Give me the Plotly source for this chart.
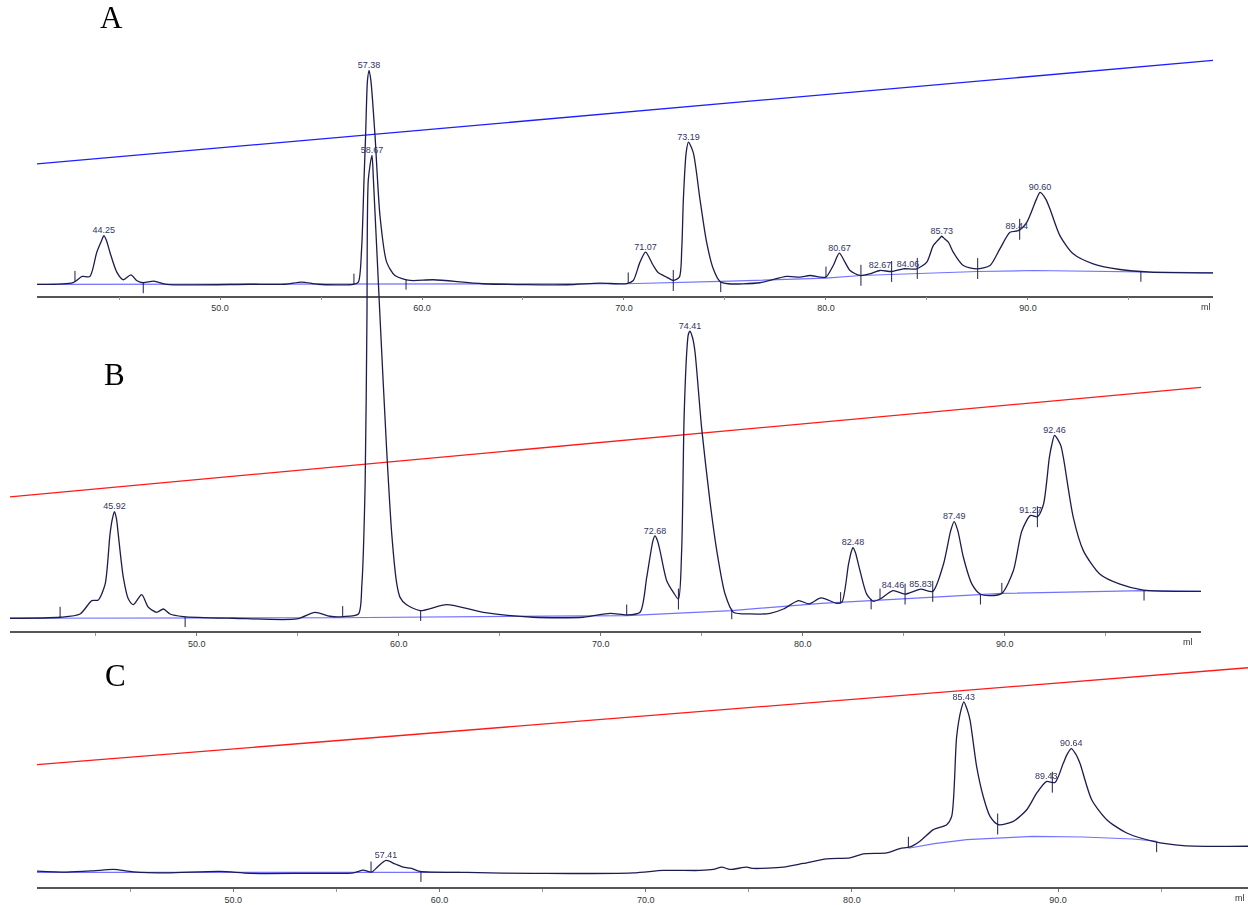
import numpy as np
import plotly.graph_objects as go

# ---------------- Panel A chromatogram (elution volume ml, absorbance a.u.) ----------------
A_ml = [40.94, 42.72, 43.17, 43.56, 43.90, 44.15, 44.25, 44.37, 44.55, 44.89, 45.21, 45.59, 45.89, 46.20,
        46.73, 47.36, 51.49, 53.22, 54.04, 54.85, 56.60, 56.85, 57.01, 57.13, 57.21, 57.30, 57.38, 57.47,
        57.67, 57.92, 58.25, 58.66, 59.41, 60.56, 63.03, 67.16, 68.81, 70.13, 70.46, 70.79, 71.07, 71.45,
        71.70, 72.11, 72.44, 72.74, 72.86, 72.94, 73.08, 73.19, 73.43, 73.76, 74.09, 74.42, 74.75, 75.16,
        76.73, 78.05, 78.71, 79.21, 79.70, 80.00, 80.36, 80.66, 80.94, 81.19, 81.68, 82.18, 82.67, 83.25,
        83.83, 84.49, 84.99, 85.31, 85.60, 85.73, 85.88, 86.06, 86.30, 86.80, 87.46, 88.12, 88.61, 89.11,
        89.52, 89.94, 90.42, 90.60, 90.88, 91.09, 91.58, 92.24, 93.23, 94.55, 96.04, 99.16]
A_abs = [0.3, 2.0, 8.3, 8.3, 32.7, 45.0, 49.3, 45.0, 32.7, 12.7, 5.0, 10.0, 4.0, 2.0,
         3.7, 0.3, 0.5, 0.5, 2.7, 0.5, 0.3, 2.7, 36.0, 106.0, 151.0, 205.0, 215.3, 205.0,
         151.0, 69.3, 22.7, 9.3, 4.3, 5.0, 1.0, 0.0, 1.7, 1.0, 4.3, 22.7, 32.7, 19.3,
         12.0, 7.7, 4.3, 7.7, 36.0, 86.0, 133.0, 143.3, 132.7, 86.0, 42.7, 16.0, 3.3, 1.0,
         2.0, 8.3, 7.7, 9.3, 7.7, 7.7, 19.3, 31.7, 22.7, 14.3, 9.3, 11.0, 14.3, 13.3,
         16.0, 16.0, 22.7, 39.3, 46.0, 48.7, 46.0, 42.7, 32.7, 19.3, 16.0, 19.3, 36.0, 52.7,
         54.3, 62.7, 86.0, 92.7, 86.0, 76.0, 49.3, 31.0, 21.0, 15.3, 12.7, 12.0]
A_base_ml = [40.94, 70.13, 74.79, 80.00, 81.73, 87.51, 90.30, 95.59, 99.16]
A_base = [0.3, 1.0, 3.3, 6.7, 9.3, 13.3, 14.3, 13.3, 12.0]
A_grad_ml = [40.94, 99.16]
A_grad = [121.3, 225.3]
A_peaks = [44.25, 57.38, 71.07, 73.19, 80.67, 82.67, 84.06, 85.73, 89.44, 90.60]
A_starts = [42.82, 56.63, 70.21, 80.00]
A_ends = [46.20, 59.21, 74.79, 95.59]
A_splits = [72.44, 81.73, 83.25, 84.52, 87.51, 89.59]

# ---------------- Panel B ----------------
B_ml = [40.75, 43.23, 44.22, 44.80, 45.12, 45.46, 45.70, 45.82, 45.92, 46.02, 46.11, 46.36, 46.61, 46.86,
        47.27, 47.60, 48.01, 48.34, 48.67, 49.33, 51.81, 54.95, 55.85, 56.59, 57.25, 58.00, 58.17, 58.33,
        58.42, 58.49, 58.67, 58.74, 59.07, 59.40, 59.65, 59.90, 60.06, 60.35, 61.05, 62.37, 64.18, 66.66,
        69.13, 70.46, 71.28, 71.94, 72.27, 72.58, 72.68, 72.80, 72.93, 73.26, 73.59, 73.84, 74.00, 74.12,
        74.26, 74.33, 74.41, 74.55, 74.66, 74.99, 75.40, 75.74, 76.15, 76.56, 77.39, 78.38, 79.04, 79.78,
        80.31, 80.90, 81.68, 81.93, 82.26, 82.40, 82.48, 82.60, 82.83, 83.16, 83.49, 83.82, 84.46, 85.06,
        85.83, 86.43, 86.96, 87.32, 87.49, 87.67, 87.95, 88.37, 88.78, 89.27, 89.85, 90.42, 90.84, 91.27,
        91.61, 91.91, 92.20, 92.32, 92.46, 92.76, 92.90, 93.39, 93.89, 94.71, 95.70, 96.86, 99.71]
B_abs = [0.0, 1.0, 4.3, 17.7, 18.3, 34.3, 84.3, 100.0, 107.0, 100.0, 84.3, 41.0, 19.3, 13.7,
         23.7, 11.0, 6.0, 9.3, 4.3, 1.7, 0.0, -0.7, 6.0, 2.0, 1.7, 4.3, 34.3, 134.3,
         301.0, 441.0, 465.0, 441.0, 301.0, 167.7, 84.3, 34.3, 21.0, 14.0, 7.7, 13.7, 6.0, 1.0,
         1.0, 5.0, 3.3, 6.0, 41.0, 78.0, 82.7, 78.0, 67.7, 37.7, 26.0, 19.3, 67.7, 201.0,
         270.0, 285.0, 288.3, 281.0, 267.7, 191.0, 117.7, 67.7, 24.3, 6.0, 4.3, 5.0, 9.3, 17.7,
         14.5, 20.5, 15.0, 16.0, 54.3, 67.0, 71.0, 66.0, 47.7, 24.3, 17.0, 19.3, 27.7, 24.3,
         29.3, 27.0, 54.3, 88.0, 97.0, 88.0, 61.0, 34.3, 24.3, 22.7, 25.0, 47.7, 87.7, 103.3,
         102.0, 114.3, 161.0, 174.0, 183.7, 174.0, 161.0, 101.0, 67.7, 44.3, 34.3, 28.3, 27.0]
B_base_ml = [40.75, 57.00, 71.28, 76.48, 80.90, 83.38, 89.85, 96.89, 99.71]
B_base = [0.0, 0.5, 2.7, 7.7, 15.0, 17.7, 25.0, 27.7, 27.0]
B_grad_ml = [40.75, 99.71]
B_grad = [122.0, 232.0]
B_peaks = [45.92, 58.67, 72.68, 74.41, 82.48, 84.46, 85.83, 87.49, 91.27, 92.46]
B_starts = [43.23, 57.22, 71.28, 81.87, 83.82, 89.85]
B_ends = [49.42, 61.08, 76.48, 83.38, 88.79, 96.89]
B_splits = [73.84, 85.06, 86.43, 91.61]

# ---------------- Panel C ----------------
C_ml = [40.47, 41.92, 43.21, 44.18, 45.15, 46.77, 49.35, 50.81, 53.23, 55.82, 56.30, 56.71, 57.03, 57.41,
        57.84, 58.24, 58.65, 59.05, 61.32, 64.55, 69.40, 70.85, 72.63, 73.28, 73.69, 74.09, 74.90, 75.22,
        76.67, 77.64, 78.78, 79.91, 80.55, 81.69, 82.33, 82.82, 83.30, 83.95, 84.60, 84.84, 85.08, 85.29,
        85.43, 85.60, 85.73, 86.05, 86.37, 86.70, 87.10, 87.83, 88.48, 88.96, 89.43, 89.85, 90.25, 90.45,
        90.64, 90.85, 91.06, 91.63, 92.36, 93.33, 94.62, 96.07, 99.21]
C_abs = [0.3, -0.7, 0.6, 2.0, -0.4, -1.4, 0.0, -2.0, -2.0, -1.4, 1.3, -0.7, 5.3, 11.0,
         7.6, 4.3, 3.0, 0.0, -1.0, -2.0, -1.4, 1.0, 1.0, 2.0, 4.3, 2.0, 4.3, 3.0,
         4.3, 8.0, 12.6, 13.6, 17.6, 18.6, 23.0, 24.6, 30.3, 42.0, 47.0, 55.3, 135.3, 162.0,
         170.3, 162.0, 152.0, 105.3, 75.3, 55.3, 47.0, 50.3, 62.0, 78.6, 90.3, 89.3, 108.6, 118.0,
         123.3, 118.0, 108.6, 72.0, 52.0, 38.6, 30.3, 26.0, 25.3]
C_base_ml = [40.47, 61.00, None, 82.74, 84.00, 85.57, 88.78, 91.21, 93.63, 94.78]
C_base = [-1.0, -1.0, None, 23.3, 28.0, 32.0, 35.3, 34.6, 32.6, 30.3]
C_grad_ml = [40.48, 99.21]
C_grad = [107.3, 204.6]
C_peaks = [57.41, 85.43, 89.43, 90.64]
C_starts = [56.68, 82.74]
C_ends = [59.10, 94.78]
C_splits = [87.07, 89.72]

# ---------------- styling / layout ----------------
W, H = 1248, 905
CURVE = '#1c1c50'
LABEL = '#34345f'
BASE = '#5a5aff'
MARK_LEN = 10.5
FONT = 'Liberation Sans, Arial'


def px_x(p):
    return p / W


def px_y(p):
    return 1 - p / H


panels = [
    dict(ml=A_ml, v=A_abs, bml=A_base_ml, b=A_base, gml=A_grad_ml, g=A_grad, gcol='#1e1eff',
         peaks=A_peaks, starts=A_starts, ends=A_ends, splits=A_splits,
         xdom=[px_x(37), px_x(1213)], ydom=[px_y(297), 1], xr=[40.94, 99.16], yr=[-11, 286],
         letter='A', lx=111, ly=18, mlx=0),
    dict(ml=B_ml, v=B_abs, bml=B_base_ml, b=B_base, gml=B_grad_ml, g=B_grad, gcol='#ff1a1a',
         peaks=B_peaks, starts=B_starts, ends=B_ends, splits=B_splits,
         xdom=[px_x(10), px_x(1201)], ydom=[px_y(634), 1], xr=[40.75, 99.71], yr=[-13, 621],
         letter='B', lx=114, ly=376, mlx=-6),
    dict(ml=C_ml, v=C_abs, bml=C_base_ml, b=C_base, gml=C_grad_ml, g=C_grad, gcol='#ff1a1a',
         peaks=C_peaks, starts=C_starts, ends=C_ends, splits=C_splits,
         xdom=[px_x(37), 1.0], ydom=[px_y(891), 1], xr=[40.48, 99.21], yr=[-15.7, 875.3],
         letter='C', lx=115, ly=679, mlx=-1),
]

fig = go.Figure()
layout = {}
annotations = []

for i, p in enumerate(panels):
    n = '' if i == 0 else str(i + 1)
    xa, ya = 'x' + n, 'y' + n
    cx, cy = np.array(p['ml']), np.array(p['v'])

    # gradient line
    fig.add_trace(go.Scatter(x=p['gml'], y=p['g'], mode='lines', xaxis=xa, yaxis=ya,
                             line=dict(color=p['gcol'], width=1.3), showlegend=False, hoverinfo='skip'))
    # integration baseline
    fig.add_trace(go.Scatter(x=p['bml'], y=p['b'], mode='lines', xaxis=xa, yaxis=ya,
                             line=dict(color=BASE, width=1.2), opacity=0.85, connectgaps=False,
                             showlegend=False, hoverinfo='skip'))
    # chromatogram
    fig.add_trace(go.Scatter(x=p['ml'], y=p['v'], mode='lines', xaxis=xa, yaxis=ya,
                             line=dict(color=CURVE, width=1.3, shape='spline', smoothing=0.7),
                             showlegend=False))
    # peak boundary marks
    mx, my = [], []
    for kind, lst in (('s', p['starts']), ('e', p['ends']), ('p', p['splits'])):
        for m in lst:
            yv = float(np.interp(m, cx, cy))
            if kind == 's':
                lo, hi = yv, yv + MARK_LEN
            elif kind == 'e':
                lo, hi = yv - MARK_LEN, yv
            else:
                lo, hi = yv - MARK_LEN, yv + MARK_LEN
            mx += [m, m, None]
            my += [lo, hi, None]
    fig.add_trace(go.Scatter(x=mx, y=my, mode='lines', xaxis=xa, yaxis=ya,
                             line=dict(color=CURVE, width=1), showlegend=False, hoverinfo='skip'))
    # peak labels
    ly_ = [float(np.interp(m, cx, cy)) for m in p['peaks']]
    fig.add_trace(go.Scatter(x=p['peaks'], y=ly_, mode='text', xaxis=xa, yaxis=ya,
                             text=[f'{m:.2f}' for m in p['peaks']], textposition='top center',
                             textfont=dict(family=FONT, size=9, color=LABEL),
                             cliponaxis=False, showlegend=False, hoverinfo='skip'))

    layout['xaxis' + n] = dict(domain=p['xdom'], range=p['xr'], anchor=ya, showline=True,
                               linecolor='#555555', linewidth=1.6, ticks='outside', ticklen=3,
                               tickcolor='#777777', tickwidth=1, tick0=0, dtick=10, tickformat='.1f',
                               tickfont=dict(family=FONT, size=9, color='#333333'),
                               showgrid=False, zeroline=False, fixedrange=True,
                               minor=dict(ticks='outside', dtick=5, tick0=0, ticklen=3,
                                          tickcolor='#999999', showgrid=False))
    layout['yaxis' + n] = dict(domain=p['ydom'], range=p['yr'], anchor=xa, visible=False,
                               fixedrange=True, showgrid=False, zeroline=False)

    annotations.append(dict(text=p['letter'], xref='paper', yref='paper', x=px_x(p['lx']),
                            y=px_y(p['ly']), xanchor='center', yanchor='middle', showarrow=False,
                            font=dict(family='Liberation Serif, Times New Roman', size=31, color='black')))
    annotations.append(dict(text='ml', xref=xa + ' domain', yref=ya + ' domain', x=1, y=0,
                            xanchor='right', yanchor='top', yshift=-4, xshift=p['mlx'], showarrow=False,
                            font=dict(family=FONT, size=9, color='#333333')))

fig.update_layout(width=W, height=H, margin=dict(l=0, r=0, t=0, b=0), paper_bgcolor='white',
                  plot_bgcolor='rgba(0,0,0,0)', showlegend=False, annotations=annotations, **layout)

fig.write_html('out.html')
